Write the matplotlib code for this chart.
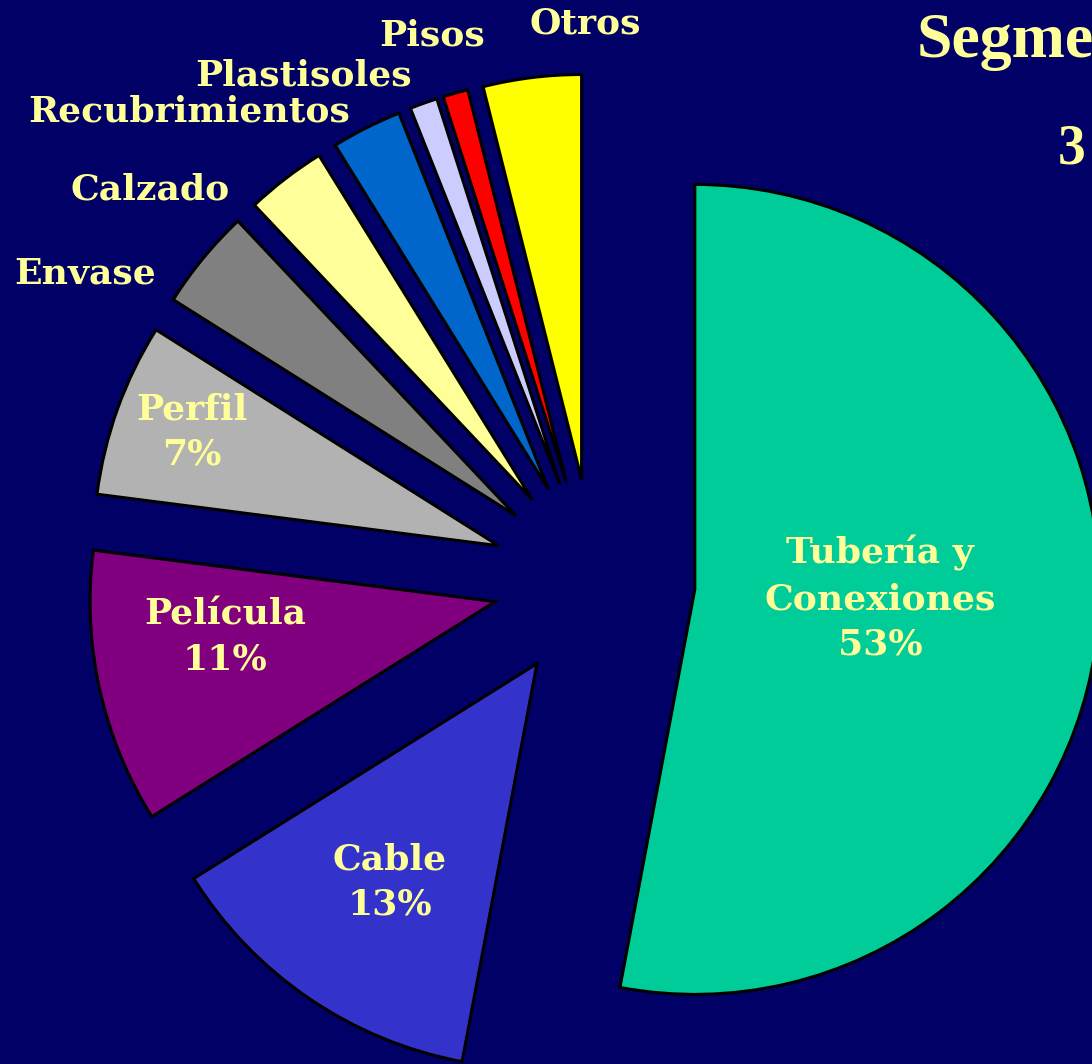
import matplotlib
matplotlib.use("Agg")
import matplotlib.pyplot as plt

labels = ["Tubería y\nConexiones", "Cable", "Película", "Perfil", "Envase",
          "Calzado", "Recubrimientos", "Plastisoles", "Pisos", "Otros"]
values = [52.8, 13.1, 10.9, 6.9, 4.0, 3.2, 2.8, 1.1, 1.0, 3.9]
shown_pct = ["53%", "13%", "11%", "7%", "", "", "", "", "", ""]
colors = ["#00CC99", "#3333CC", "#800080", "#B2B2B2", "#808080",
          "#FFFF99", "#0066CC", "#CCCCFF", "#FF0000", "#FFFF00"]

BG = "#000066"
TXT = "#FFFF99"
W, H = 1092, 1064
cx, cy, R = 594, 580, 405

fig = plt.figure(figsize=(W / 100, H / 100), dpi=100, facecolor=BG)
ax = fig.add_axes([0, 0, 1, 1])
ax.set_facecolor(BG)

wedges, _ = ax.pie(values, colors=colors, startangle=90, counterclock=False,
                   explode=[0.25] * len(values), radius=1,
                   wedgeprops=dict(edgecolor="black", linewidth=2.2))
ax.set_aspect("auto")
ax.set_xlim(-cx / R, (W - cx) / R)
ax.set_ylim(-(H - cy) / R, cy / R)
ax.axis("off")

def px(x, y):
    return (x - cx) / R, (cy - y) / R

font = dict(family="DejaVu Serif", fontweight="bold", color=TXT, fontsize=26)

# inside labels
inside_pos = {0: (880, 598), 1: (390, 882), 2: (225, 637), 3: (192, 432)}
for i, (x, y) in inside_pos.items():
    ax.text(*px(x, y), labels[i] + "\n" + shown_pct[i], ha="center", va="center",
            linespacing=1.42, **font)

# outside labels
outside_pos = {4: (85, 273), 5: (150, 190), 6: (189, 112), 7: (304, 75),
               8: (432, 35), 9: (585, 24)}
for i, (x, y) in outside_pos.items():
    ax.text(*px(x, y), labels[i], ha="center", va="center", **font)

# title (only its beginning is visible in the reference)
fig.text(917 / W, 1 - 42 / H, "Segme", ha="left", va="center",
         family="Liberation Serif", fontweight="bold", color=TXT, fontsize=46)
fig.text(1058 / W, 1 - 150 / H, "3", ha="left", va="center",
         family="Liberation Serif", fontweight="bold", color=TXT, fontsize=40)

fig.savefig("out.png", dpi=100, facecolor=BG)
